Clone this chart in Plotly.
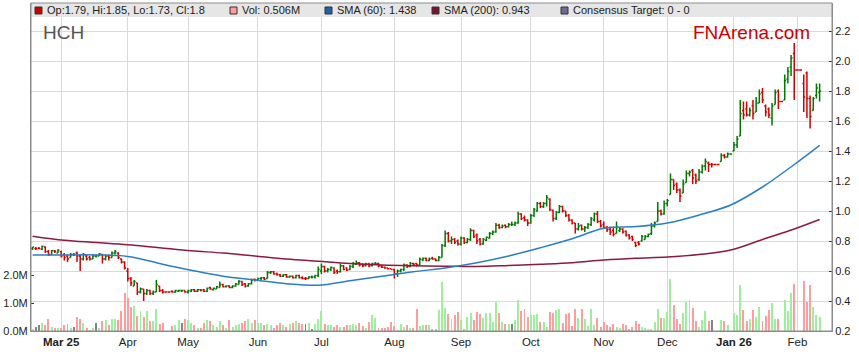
import pandas as pd
import plotly.graph_objects as go

# ---------------- data ----------------
holidays = ["2025-04-18", "2025-04-21", "2025-04-25", "2025-06-09",
            "2025-12-25", "2025-12-26", "2026-01-01", "2026-01-26"]
dates = [d.strftime("%Y-%m-%d") for d in pd.bdate_range("2025-02-18", "2026-02-11")
         if d.strftime("%Y-%m-%d") not in holidays]

opens = [
    .75, .75, .75, .745, .76, .73, .71, .735, .72, .73,
    .71, .70, .69, .71, .72, .70, .68, .70, .69, .68,
    .70, .70, .71, .68, .70, .69, .72, .72, .68, .66,
    .60, .55, .50, .52, .46, .48, .45, .47, .45, .46,
    .50, .47, .46, .46, .465, .46, .465, .47, .47, .46,
    .465, .475, .465, .475, .475, .465, .49, .475, .48, .49,
    .51, .495, .50, .49, .50, .51, .53, .515, .50, .515,
    .545, .54, .55, .555, .55, .59, .595, .58, .575, .565,
    .575, .56, .565, .555, .57, .555, .55, .55, .56, .56,
    .57, .60, .63, .60, .61, .62, .60, .595, .635, .62,
    .61, .63, .645, .655, .645, .635, .645, .635, .645, .65,
    .635, .625, .62, .615, .61, .58, .60, .61, .64, .63,
    .65, .65, .64, .675, .685, .67, .685, .68, .67, .69,
    .77, .85, .80, .81, .80, .78, .82, .79, .81, .87,
    .84, .81, .78, .805, .82, .85, .86, .905, .89, .905,
    .895, .91, .91, .92, .98, .955, .94, .92, .97, 1.0,
    1.05, 1.03, 1.05, 1.08, 1.005, .95, .99, 1.03, 1.0, .97,
    .94, .92, .88, .905, .88, .89, .91, .94, .98, .93,
    .91, .89, .88, .87, .85, .87, .88, .865, .84, .83,
    .79, .79, .80, .81, .83, .85, .90, .93, 1.0, .98,
    1.05, 1.11, 1.21, 1.18, 1.14, 1.12, 1.19, 1.25, 1.27, 1.24,
    1.21, 1.26, 1.30, 1.32, 1.31, 1.31, 1.31, 1.33, 1.37, 1.36,
    1.38, 1.40, 1.44, 1.50, 1.67, 1.68, 1.64, 1.70, 1.66, 1.72,
    1.79, 1.70, 1.68, 1.62, 1.71, 1.80, 1.73, 1.74, 1.88, 1.96,
    2.05, 1.94, 1.94, 1.85, 1.92, 1.75, 1.67, 1.77, 1.79]

highs = [
    .76, .76, .76, .77, .765, .74, .74, .74, .745, .735,
    .72, .71, .72, .72, .73, .71, .72, .71, .70, .71,
    .71, .72, .715, .71, .71, .73, .74, .725, .685, .665,
    .62, .56, .54, .52, .49, .48, .48, .475, .47, .54,
    .50, .48, .46, .46, .47, .475, .475, .475, .47, .475,
    .48, .48, .48, .48, .48, .49, .495, .49, .50, .53,
    .515, .505, .505, .505, .52, .54, .535, .52, .52, .55,
    .55, .555, .56, .56, .60, .60, .60, .59, .58, .58,
    .58, .57, .57, .575, .575, .565, .56, .565, .57, .575,
    .63, .65, .635, .62, .63, .625, .61, .65, .64, .625,
    .64, .66, .67, .66, .65, .655, .655, .655, .66, .655,
    .64, .63, .62, .615, .615, .61, .615, .65, .645, .66,
    .655, .655, .69, .69, .69, .69, .695, .685, .70, .78,
    .87, .86, .83, .82, .81, .83, .825, .82, .885, .875,
    .85, .82, .82, .83, .86, .87, .92, .915, .91, .91,
    .92, .93, .93, .995, .985, .97, .945, .98, 1.02, 1.06,
    1.06, 1.06, 1.107, 1.085, 1.01, 1.0, 1.04, 1.035, 1.0, .98,
    .945, .92, .92, .91, .90, .92, .96, .99, 1.0, .94,
    .93, .90, .895, .895, .93, .89, .885, .87, .845, .835,
    .795, .80, .84, .84, .85, .92, .93, 1.06, 1.01, 1.07,
    1.08, 1.25, 1.21, 1.19, 1.15, 1.21, 1.27, 1.27, 1.28, 1.25,
    1.28, 1.31, 1.35, 1.33, 1.32, 1.31, 1.31, 1.385, 1.38, 1.39,
    1.38, 1.46, 1.50, 1.74, 1.73, 1.73, 1.69, 1.74, 1.76, 1.81,
    1.82, 1.71, 1.69, 1.72, 1.81, 1.81, 1.73, 1.91, 1.96, 2.04,
    2.12, 1.94, 1.94, 1.91, 1.93, 1.77, 1.76, 1.85, 1.85]

lows = [
    .74, .74, .745, .74, .72, .70, .71, .72, .72, .69,
    .67, .66, .69, .70, .66, .60, .67, .67, .67, .68,
    .69, .70, .65, .67, .67, .69, .71, .68, .65, .61,
    .53, .50, .50, .44, .45, .40, .44, .44, .44, .46,
    .46, .45, .46, .46, .455, .455, .46, .46, .455, .45,
    .46, .46, .46, .465, .46, .46, .475, .47, .48, .49,
    .49, .49, .485, .485, .495, .51, .50, .49, .495, .51,
    .53, .535, .54, .54, .55, .58, .575, .57, .56, .56,
    .555, .555, .55, .55, .55, .545, .54, .545, .55, .55,
    .56, .58, .59, .59, .60, .58, .58, .59, .605, .60,
    .605, .62, .64, .63, .625, .63, .625, .63, .64, .625,
    .62, .615, .61, .61, .55, .56, .59, .60, .62, .625,
    .64, .63, .64, .665, .665, .665, .675, .665, .665, .69,
    .76, .79, .78, .78, .77, .77, .78, .785, .80, .82,
    .78, .77, .775, .80, .815, .84, .855, .88, .885, .885,
    .89, .90, .90, .915, .94, .93, .90, .915, .96, .995,
    1.02, 1.02, 1.03, 1.0, .93, .94, .985, .99, .96, .93,
    .91, .85, .87, .87, .86, .88, .90, .93, .92, .89,
    .88, .86, .84, .83, .85, .86, .85, .83, .81, .80,
    .76, .77, .795, .81, .825, .84, .89, .93, .97, .975,
    1.03, 1.11, 1.14, 1.12, 1.06, 1.12, 1.19, 1.23, 1.18, 1.18,
    1.20, 1.25, 1.27, 1.26, 1.29, 1.31, 1.31, 1.33, 1.35, 1.355,
    1.38, 1.40, 1.42, 1.50, 1.61, 1.63, 1.63, 1.61, 1.66, 1.72,
    1.72, 1.63, 1.62, 1.57, 1.71, 1.68, 1.73, 1.74, 1.85, 1.90,
    1.74, 1.94, 1.94, 1.66, 1.62, 1.55, 1.67, 1.75, 1.73]

closes = [
    .76, .75, .75, .765, .73, .71, .735, .73, .74, .70,
    .69, .68, .71, .71, .70, .68, .71, .68, .68, .70,
    .70, .715, .68, .70, .69, .72, .73, .69, .66, .62,
    .55, .52, .53, .46, .48, .45, .47, .45, .46, .51,
    .47, .46, .46, .46, .46, .47, .47, .47, .46, .47,
    .475, .465, .475, .47, .465, .485, .48, .485, .495, .51,
    .495, .50, .49, .50, .515, .53, .51, .50, .515, .54,
    .54, .55, .555, .545, .59, .595, .58, .575, .565, .575,
    .56, .565, .555, .57, .555, .55, .55, .56, .56, .57,
    .61, .63, .60, .61, .625, .59, .595, .635, .61, .605,
    .63, .65, .655, .64, .635, .645, .635, .65, .65, .635,
    .625, .62, .615, .61, .58, .60, .61, .64, .63, .65,
    .645, .64, .68, .685, .67, .68, .68, .67, .69, .77,
    .85, .80, .81, .79, .78, .82, .79, .81, .87, .83,
    .80, .78, .81, .825, .85, .86, .905, .89, .90, .895,
    .91, .91, .92, .98, .95, .94, .92, .97, 1.01, 1.05,
    1.03, 1.05, 1.09, 1.01, .95, .99, 1.03, 1.0, .97, .94,
    .92, .88, .90, .88, .89, .91, .95, .98, .93, .90,
    .89, .875, .86, .845, .89, .88, .86, .84, .82, .81,
    .77, .78, .83, .83, .845, .90, .92, 1.0, .98, 1.05,
    1.07, 1.21, 1.17, 1.14, 1.10, 1.18, 1.25, 1.26, 1.22, 1.20,
    1.26, 1.30, 1.33, 1.31, 1.31, 1.31, 1.31, 1.37, 1.36, 1.38,
    1.38, 1.44, 1.48, 1.65, 1.64, 1.64, 1.67, 1.65, 1.72, 1.78,
    1.74, 1.66, 1.64, 1.70, 1.79, 1.73, 1.73, 1.87, 1.93, 2.02,
    1.94, 1.94, 1.94, 1.76, 1.75, 1.63, 1.75, 1.82, 1.80]

volumes_m = [
    .06, .15, .2, .28, .22, .45, .15, .1, .12, .1,
    .2, .25, .1, .15, .5, .45, .3, .1, .05, .12,
    .3, .1, .35, .4, .2, .45, .45, .4, .72, 1.38,
    1.2, .85, .92, .55, .72, .5, .72, .35, .35, .8,
    .25, .3, 0, 0, .18, .2, .4, .3, .45, .4,
    .3, .2, .1, .12, .3, .4, .35, .2, .15, .35,
    .2, .1, .4, .15, .2, .25, .3, .35, .45, .3,
    .4, .3, .3, .2, .25, .2, .1, .2, .3, .2,
    .15, .25, .3, .35, .3, .24, .24, .30, .08, .24,
    .42, .72, .24, .21, .23, .16, .21, .16, .16, .21,
    .23, .24, .21, .30, .18, .12, .33, .57, .48, .12,
    .12, .12, .16, .33, .18, .04, .24, .16, .21, .12,
    .12, .80, .18, .21, .21, .21, .08, .06, .76, 1.77,
    .84, .60, .45, .57, .69, .39, .06, .52, .64, .39,
    .69, .60, .48, .64, .64, .33, 1.05, .64, .33, .24,
    .24, .27, .39, 1.11, .72, .79, .52, .57, .59, .60,
    .33, .33, .16, .69, .64, .75, .81, .30, .60, .64,
    .18, .79, .48, .79, .42, .18, .79, .21, .48, .16,
    .33, .21, .16, .24, .16, .12, .24, .21, .08, .16,
    .36, .24, .16, .11, .06, .06, .33, .79, .46, .48,
    .69, 1.87, .93, .42, .24, .64, 1.06, 1.11, .82, .36,
    .15, .40, .72, .36, .40, 0, 0, .39, .36, .21,
    0, .64, .57, 1.66, .76, .36, .45, .76, .52, .86,
    .36, .54, .76, 1.0, .42, .45, 0, 1.11, .72, 1.36,
    1.68, 0, 0, 1.79, 1.05, 1.65, .88, .57, .506]

# moving averages read at every 10th session (plus the last one)
sma_points = [0, 10, 20, 30, 40, 50, 60, 70, 80, 90, 100, 110, 120,
              130, 140, 150, 160, 170, 180, 190, 200, 210, 220, 230, 240, 248]
sma60 = [.707, .707, .707, .697, .65, .605, .565, .54, .515, .505, .535, .565, .595,
         .62, .655, .70, .755, .815, .885, .896, .92, .973, 1.04, 1.16, 1.31, 1.438]
sma200 = [.832, .805, .79, .775, .755, .735, .72, .70, .68, .665, .65, .64, .635,
          .632, .63, .637, .645, .655, .673, .685, .693, .71, .74, .81, .88, .943]

tick_text = ["<b>Mar 25</b>", "Apr", "May", "Jun", "Jul", "Aug", "Sep", "Oct",
             "Nov", "Dec", "<b>Jan 26</b>", "Feb"]

n = len(dates)
for arr in (opens, highs, lows, closes, volumes_m):
    assert len(arr) == n, (len(arr), n)
for i in range(n):
    assert highs[i] >= max(opens[i], closes[i]) - 1e-9, i
    assert lows[i] <= min(opens[i], closes[i]) + 1e-9, i

# ticks: first session of each month (from March 2025)
tick_vals, seen = [], set()
for d in dates:
    if d[:7] not in seen:
        seen.add(d[:7])
        tick_vals.append(d)
tick_vals = tick_vals[1:]

sma_x = [dates[i] for i in sma_points]

vol_colors = ["#9cf09c" if c > o else ("#ff9c9c" if c < o else "#848484")
              for o, c in zip(opens, closes)]

FONT = "Liberation Sans, Arial, sans-serif"

fig = go.Figure()
fig.add_trace(go.Bar(x=dates, y=volumes_m, marker_color=vol_colors,
                     marker_line_width=0, width=0.62, yaxis="y", hoverinfo="skip"))
fig.add_trace(go.Ohlc(x=dates, open=opens, high=highs, low=lows, close=closes,
                      yaxis="y2", tickwidth=0.45, line_width=1.5,
                      increasing_line_color="#007800", decreasing_line_color="#d40000"))
fig.add_trace(go.Scatter(x=sma_x, y=sma200, yaxis="y2", mode="lines",
                         line=dict(color="#8e1a3e", width=1.5, shape="spline")))
fig.add_trace(go.Scatter(x=sma_x, y=sma60, yaxis="y2", mode="lines",
                         line=dict(color="#2a7fc4", width=1.5, shape="spline")))

L, R, T, B = 31, 832, 3, 331
W, H = R - L, B - T


def px(x):
    return (x - L) / W


def py(y):
    return (B - y) / H


shapes = [
    dict(type="rect", xref="paper", yref="paper", x0=0, x1=1, y0=py(17), y1=1,
         fillcolor="#e6e6e6", line_width=0, layer="above"),
    dict(type="rect", xref="paper", yref="paper", x0=0, x1=1, y0=0, y1=1,
         fillcolor="rgba(0,0,0,0)", line=dict(color="#8c8c8c", width=1), layer="above"),
]
legend_items = [
    (35, "#cc0000", "Op:1.79, Hi:1.85, Lo:1.73, Cl:1.8"),
    (230, "#ff9c9c", "Vol: 0.506M"),
    (325, "#1f62a8", "SMA (60): 1.438"),
    (432, "#7c1232", "SMA (200): 0.943"),
    (561, "#6b6b96", "Consensus Target: 0 - 0"),
]
annotations = []
for x0, col, txt in legend_items:
    shapes.append(dict(type="rect", xref="paper", yref="paper",
                       x0=px(x0), x1=px(x0 + 7), y0=py(14), y1=py(7),
                       fillcolor=col, line=dict(color="#333333", width=1), layer="above"))
    annotations.append(dict(xref="paper", yref="paper", x=px(x0 + 10), y=py(10.5),
                            xanchor="left", yanchor="middle", showarrow=False, text=txt,
                            font=dict(family=FONT, size=11, color="#222222")))
annotations.append(dict(xref="paper", yref="paper", x=px(41), y=py(33),
                        xanchor="left", yanchor="middle", showarrow=False, text="HCH",
                        font=dict(family=FONT, size=19, color="#555555")))
annotations.append(dict(xref="paper", yref="paper", x=px(691), y=py(33),
                        xanchor="left", yanchor="middle", showarrow=False, text="FNArena.com",
                        font=dict(family=FONT, size=19, color="#cc0000")))

fig.update_layout(
    width=859, height=363,
    margin=dict(l=L, r=859 - R, t=T, b=363 - B, autoexpand=False),
    paper_bgcolor="white", plot_bgcolor="white",
    showlegend=False, bargap=0, hovermode=False,
    font=dict(family=FONT, size=11, color="#222222"),
    xaxis=dict(type="category", categoryorder="array", categoryarray=dates,
               range=[-0.5, 251.9], tickvals=tick_vals, ticktext=tick_text,
               showgrid=True, gridcolor="#d9d9d9", gridwidth=1, ticks="",
               automargin=False,
               tickfont=dict(family=FONT, size=11.5, color="#222222"),
               showline=True, linecolor="#8c8c8c", zeroline=False,
               rangeslider=dict(visible=False)),
    yaxis=dict(range=[0, 11.84], side="left", tickvals=[0, 1, 2],
               ticktext=["0.0M", "1.0M", "2.0M"], showgrid=False, zeroline=False,
               automargin=False,
               ticks="inside", ticklen=3, tickcolor="#333333", showline=True,
               linecolor="#8c8c8c", tickfont=dict(family=FONT, size=11, color="#222222")),
    yaxis2=dict(overlaying="y", side="right", anchor="x", range=[0.2, 2.3867],
                tick0=0.2, dtick=0.2, tickformat=".1f", showgrid=True,
                automargin=False,
                gridcolor="#d9d9d9", gridwidth=1, zeroline=False,
                ticks="inside", ticklen=3, tickcolor="#333333", showline=True,
                linecolor="#8c8c8c", tickfont=dict(family=FONT, size=11, color="#222222")),
    shapes=shapes, annotations=annotations,
)

fig.write_html("out.html", config={"displayModeBar": False, "staticPlot": True},
               post_script="document.body.style.margin='0px';document.body.style.padding='0px';")
